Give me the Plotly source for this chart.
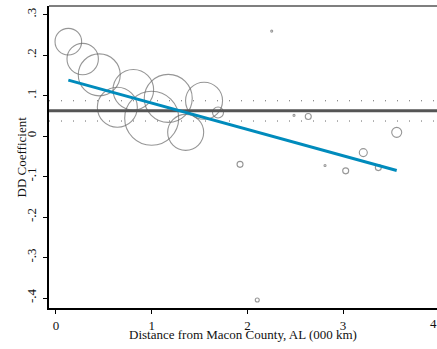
import plotly.graph_objects as go
import numpy as np

# ---- data ----
distance = [0.129, 0.279, 0.452, 0.808, 0.641, 1.000, 1.173, 1.355, 1.547, 1.693,
            1.923, 2.254, 2.103, 2.487, 2.636, 2.811, 3.027, 3.211, 3.368, 3.560]
dd_coef = [0.233, 0.190, 0.151, 0.114, 0.071, 0.044, 0.093, 0.009, 0.087, 0.058,
           -0.070, 0.259, -0.405, 0.051, 0.048, -0.073, -0.086, -0.041, -0.078, 0.009]
weights = [26.6, 31.4, 42, 40.6, 40, 54, 48, 36, 37, 11,
           6, 2, 4, 2, 6, 2, 6, 8, 6, 10]

mean_coef = 0.0625
ci_low = 0.037
ci_high = 0.087

fit_intercept = 0.1464
fit_slope = -0.0651

x_ticks = [0, 1, 2, 3, 4]
y_ticks = [0.3, 0.2, 0.1, 0.0, -0.1, -0.2, -0.3, -0.4]
y_tick_text = [".3", ".2", ".1", "0", "-.1", "-.2", "-.3", "-.4"]

x_range = [-0.073, 3.981]
y_range = [-0.4247, 0.321]

FONT = "Liberation Serif"

fig = go.Figure()

fig.add_trace(go.Scatter(
    x=distance, y=dd_coef, mode="markers",
    marker=dict(symbol="circle-open", size=weights, sizemode="diameter",
                color="#6a6a6a", line=dict(width=1.1, color="#6a6a6a")),
    hoverinfo="skip", showlegend=False))

# mean coefficient and CI lines
for val, dash, width, color in [(mean_coef, "solid", 3, "#555555"),
                                (ci_low, "1px,11px", 1, "#666666"),
                                (ci_high, "1px,11px", 1, "#666666")]:
    fig.add_trace(go.Scatter(x=x_range, y=[val, val], mode="lines",
                             line=dict(color=color, width=width, dash=dash),
                             hoverinfo="skip", showlegend=False))

fx = np.array([min(distance), max(distance)])
fig.add_trace(go.Scatter(x=fx, y=fit_intercept + fit_slope * fx, mode="lines",
                         line=dict(color="rgb(0,139,188)", width=3),
                         hoverinfo="skip", showlegend=False))

# top border
fig.add_shape(type="line", xref="paper", yref="paper", x0=0, x1=1, y0=1, y1=1,
              line=dict(color="black", width=1.2))

visible_x = [t for t in x_ticks if x_range[0] <= t <= x_range[1]]
fig.update_xaxes(range=x_range, tickvals=visible_x, ticktext=[str(t) for t in visible_x],
                 automargin=False,
                 showline=True, linecolor="black", linewidth=2,
                 ticks="outside", ticklen=4, tickcolor="black", tickwidth=1,
                 showgrid=False, zeroline=False,
                 tickfont=dict(family=FONT, size=13, color="#111"))
fig.update_yaxes(range=y_range, tickvals=y_ticks, ticktext=y_tick_text,
                 tickangle=-90, automargin=False, ticklabelstandoff=2,
                 showline=True, linecolor="black", linewidth=2,
                 ticks="outside", ticklen=4, tickcolor="black", tickwidth=1,
                 showgrid=False, zeroline=False,
                 tickfont=dict(family=FONT, size=13, color="#111"))

# tick label beyond the visible range (cut by the page edge)
span = x_range[1] - x_range[0]
for t in x_ticks:
    if t > x_range[1]:
        fig.add_annotation(x=(t - x_range[0]) / span, y=0, xref="paper", yref="paper",
                           yanchor="top", yshift=-6, text=str(t), showarrow=False,
                           font=dict(family=FONT, size=13, color="#111"))

fig.add_annotation(x=0.5, y=0, xref="paper", yref="paper", yanchor="top", yshift=-17,
                   text="Distance from Macon County, AL (000 km)", showarrow=False,
                   font=dict(family=FONT, size=13, color="#111"))
fig.add_annotation(x=0, y=0.5, xref="paper", yref="paper", xanchor="right", xshift=-19,
                   text="DD Coefficient", textangle=-90, showarrow=False,
                   font=dict(family=FONT, size=13, color="#111"))

fig.update_layout(template="none", width=437, height=349,
                  margin=dict(l=49, r=0, t=6, b=41, autoexpand=False),
                  plot_bgcolor="white", paper_bgcolor="white")

fig.write_html("out.html", config={"displayModeBar": False},
               post_script="document.body.style.margin='0';document.body.style.overflow='hidden';")
